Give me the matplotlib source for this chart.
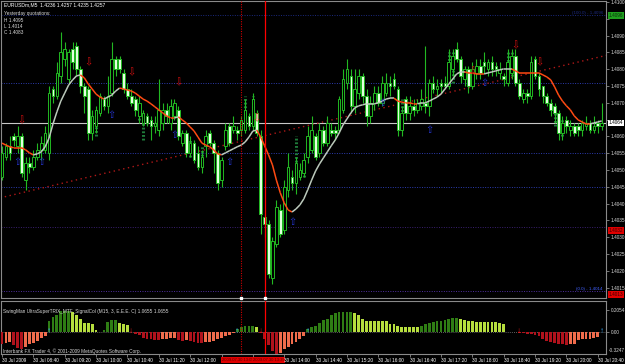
import numpy as np
import matplotlib
matplotlib.use('Agg')
import matplotlib.pyplot as plt
from matplotlib.collections import LineCollection

plt.rcParams['font.family'] = ['Liberation Sans', 'DejaVu Sans']

# EURUSDm M5, 30 Jul 2009, bars 08:00 .. 20:45
opens = [1.4048, 1.4054, 1.4057, 1.4060, 1.4057, 1.4060, 1.4047, 1.4052, 1.4051, 1.4054,
         1.4056, 1.4056, 1.4055, 1.4074, 1.4072, 1.4078, 1.4083, 1.4077, 1.4086, 1.4087,
         1.4080, 1.4075, 1.4074, 1.4061, 1.4063, 1.4067, 1.4071, 1.4069, 1.4073, 1.4083,
         1.4083, 1.4079, 1.4074, 1.4072, 1.4071, 1.4066, 1.4064, 1.4066, 1.4065, 1.4063,
         1.4062, 1.4064, 1.4068, 1.4064, 1.4066, 1.4068, 1.4058, 1.4061, 1.4055, 1.4058,
         1.4055, 1.4051, 1.4057, 1.4061, 1.4058, 1.4055, 1.4047, 1.4057, 1.4063, 1.4062,
         1.4062, 1.4062, 1.4062, 1.4066, 1.4063, 1.4067, 1.4060, 1.4036, 1.4034, 1.4018,
         1.4028, 1.4038, 1.4032, 1.4044, 1.4048, 1.4046, 1.4048, 1.4049, 1.4054, 1.4056,
         1.4060, 1.4055, 1.4062, 1.4058, 1.4062, 1.4062, 1.4062, 1.4068, 1.4076, 1.4078,
         1.4069, 1.4073, 1.4078, 1.4072, 1.4066, 1.4070, 1.4073, 1.4070, 1.4073, 1.4076,
         1.4077, 1.4074, 1.4062, 1.4071, 1.4067, 1.4069, 1.4068, 1.4069, 1.4070, 1.4069,
         1.4076, 1.4074, 1.4076, 1.4076, 1.4075, 1.4080, 1.4086, 1.4083, 1.4077, 1.4080,
         1.4075, 1.4079, 1.4081, 1.4082, 1.4080, 1.4082, 1.4081, 1.4079, 1.4078, 1.4076,
         1.4079, 1.4084, 1.4076, 1.4071, 1.4073, 1.4072, 1.4083, 1.4078, 1.4075, 1.4072,
         1.4070, 1.4069, 1.4067, 1.4061, 1.4065, 1.4062, 1.4063, 1.4063, 1.4062, 1.4063,
         1.4064, 1.4062, 1.4064, 1.4063]
highs = [1.4057, 1.4058, 1.4060, 1.4061, 1.4063, 1.4061, 1.4054, 1.4054, 1.4056, 1.4058,
         1.4060, 1.4063, 1.4075, 1.4075, 1.4082, 1.4091, 1.4088, 1.4086, 1.4088, 1.4088,
         1.4081, 1.4076, 1.4075, 1.4068, 1.4069, 1.4073, 1.4072, 1.4078, 1.4088, 1.4084,
         1.4084, 1.4080, 1.4076, 1.4074, 1.4072, 1.4072, 1.4068, 1.4067, 1.4066, 1.4066,
         1.4077, 1.4070, 1.4070, 1.4071, 1.4071, 1.4069, 1.4062, 1.4062, 1.4060, 1.4059,
         1.4057, 1.4056, 1.4062, 1.4062, 1.4059, 1.4056, 1.4054, 1.4064, 1.4064, 1.4066,
         1.4063, 1.4066, 1.4071, 1.4067, 1.4073, 1.4068, 1.4062, 1.4037, 1.4035, 1.4030,
         1.4041, 1.4040, 1.4047, 1.4055, 1.4050, 1.4054, 1.4052, 1.4055, 1.4063, 1.4066,
         1.4061, 1.4064, 1.4063, 1.4066, 1.4064, 1.4063, 1.4072, 1.4080, 1.4083, 1.4080,
         1.4080, 1.4080, 1.4079, 1.4074, 1.4072, 1.4075, 1.4075, 1.4078, 1.4079, 1.4078,
         1.4079, 1.4075, 1.4069, 1.4072, 1.4072, 1.4071, 1.4071, 1.4074, 1.4087, 1.4077,
         1.4078, 1.4077, 1.4077, 1.4078, 1.4086, 1.4086, 1.4088, 1.4084, 1.4081, 1.4081,
         1.4082, 1.4083, 1.4083, 1.4085, 1.4083, 1.4084, 1.4082, 1.4082, 1.4079, 1.4086,
         1.4086, 1.4086, 1.4077, 1.4074, 1.4074, 1.4084, 1.4084, 1.4079, 1.4075, 1.4073,
         1.4071, 1.4070, 1.4068, 1.4066, 1.4066, 1.4065, 1.4064, 1.4064, 1.4065, 1.4066,
         1.4065, 1.4066, 1.4065, 1.4070]
lows = [1.4047, 1.4053, 1.4053, 1.4057, 1.4055, 1.4048, 1.4044, 1.4049, 1.4050, 1.4053,
        1.4053, 1.4055, 1.4053, 1.4070, 1.4071, 1.4076, 1.4081, 1.4076, 1.4080, 1.4078,
        1.4073, 1.4067, 1.4059, 1.4059, 1.4061, 1.4066, 1.4068, 1.4067, 1.4072, 1.4078,
        1.4079, 1.4073, 1.4071, 1.4069, 1.4066, 1.4064, 1.4063, 1.4063, 1.4059, 1.4061,
        1.4060, 1.4062, 1.4064, 1.4062, 1.4065, 1.4059, 1.4057, 1.4054, 1.4054, 1.4052,
        1.4050, 1.4049, 1.4054, 1.4057, 1.4049, 1.4044, 1.4045, 1.4056, 1.4057, 1.4061,
        1.4059, 1.4060, 1.4061, 1.4062, 1.4062, 1.4060, 1.4031, 1.4030, 1.4018, 1.4016,
        1.4027, 1.4030, 1.4031, 1.4042, 1.4044, 1.4043, 1.4047, 1.4048, 1.4052, 1.4055,
        1.4053, 1.4054, 1.4057, 1.4057, 1.4060, 1.4059, 1.4061, 1.4067, 1.4074, 1.4067,
        1.4067, 1.4071, 1.4070, 1.4063, 1.4064, 1.4068, 1.4069, 1.4069, 1.4072, 1.4072,
        1.4074, 1.4060, 1.4060, 1.4065, 1.4065, 1.4066, 1.4067, 1.4068, 1.4067, 1.4066,
        1.4073, 1.4072, 1.4073, 1.4074, 1.4074, 1.4078, 1.4082, 1.4076, 1.4075, 1.4073,
        1.4074, 1.4077, 1.4077, 1.4079, 1.4078, 1.4078, 1.4078, 1.4077, 1.4075, 1.4075,
        1.4077, 1.4075, 1.4071, 1.4070, 1.4070, 1.4071, 1.4077, 1.4072, 1.4070, 1.4069,
        1.4066, 1.4064, 1.4059, 1.4059, 1.4061, 1.4060, 1.4060, 1.4060, 1.4060, 1.4062,
        1.4061, 1.4061, 1.4061, 1.4062]
closes = [1.4055, 1.4057, 1.4055, 1.4059, 1.4060, 1.4049, 1.4052, 1.4051, 1.4054, 1.4056,
          1.4058, 1.4061, 1.4073, 1.4072, 1.4079, 1.4085, 1.4086, 1.4085, 1.4082, 1.4080,
          1.4075, 1.4072, 1.4061, 1.4066, 1.4068, 1.4072, 1.4069, 1.4072, 1.4083, 1.4080,
          1.4080, 1.4074, 1.4072, 1.4070, 1.4068, 1.4070, 1.4067, 1.4064, 1.4063, 1.4064,
          1.4068, 1.4068, 1.4066, 1.4069, 1.4070, 1.4060, 1.4061, 1.4055, 1.4058, 1.4053,
          1.4051, 1.4054, 1.4060, 1.4058, 1.4055, 1.4046, 1.4053, 1.4062, 1.4058, 1.4063,
          1.4061, 1.4065, 1.4068, 1.4063, 1.4071, 1.4061, 1.4037, 1.4034, 1.4019, 1.4029,
          1.4039, 1.4031, 1.4045, 1.4051, 1.4046, 1.4052, 1.4050, 1.4053, 1.4060, 1.4062,
          1.4054, 1.4062, 1.4058, 1.4064, 1.4061, 1.4061, 1.4071, 1.4077, 1.4080, 1.4069,
          1.4074, 1.4078, 1.4072, 1.4066, 1.4070, 1.4073, 1.4070, 1.4076, 1.4076, 1.4075,
          1.4075, 1.4062, 1.4067, 1.4067, 1.4069, 1.4068, 1.4070, 1.4071, 1.4069, 1.4076,
          1.4074, 1.4075, 1.4075, 1.4075, 1.4082, 1.4084, 1.4083, 1.4078, 1.4080, 1.4075,
          1.4080, 1.4081, 1.4079, 1.4081, 1.4082, 1.4080, 1.4080, 1.4080, 1.4077, 1.4082,
          1.4084, 1.4076, 1.4072, 1.4073, 1.4072, 1.4082, 1.4078, 1.4074, 1.4072, 1.4070,
          1.4068, 1.4067, 1.4061, 1.4064, 1.4063, 1.4063, 1.4061, 1.4062, 1.4064, 1.4064,
          1.4062, 1.4063, 1.4063, 1.4064]

ma = [1.40580, 1.40574, 1.40569, 1.40566, 1.40566, 1.40566, 1.40560, 1.40551, 1.40545, 1.40548,
      1.40554, 1.40569, 1.40595, 1.40637, 1.40673, 1.40705, 1.40729, 1.40753, 1.40768, 1.40780,
      1.40783, 1.40774, 1.40756, 1.40741, 1.40726, 1.40717, 1.40711, 1.40717, 1.40723, 1.40735,
      1.40744, 1.40741, 1.40738, 1.40735, 1.40729, 1.40720, 1.40711, 1.40705, 1.40697, 1.40688,
      1.40679, 1.40670, 1.40661, 1.40655, 1.40655, 1.40658, 1.40649, 1.40640, 1.40628, 1.40616,
      1.40598, 1.40580, 1.40574, 1.40569, 1.40560, 1.40548, 1.40545, 1.40551, 1.40557, 1.40563,
      1.40569, 1.40574, 1.40583, 1.40598, 1.40616, 1.40619, 1.40598, 1.40572, 1.40545, 1.40515,
      1.40470, 1.40432, 1.40402, 1.40381, 1.40375, 1.40384, 1.40396, 1.40414, 1.40441, 1.40470,
      1.40497, 1.40518, 1.40536, 1.40554, 1.40572, 1.40589, 1.40610, 1.40634, 1.40652, 1.40670,
      1.40685, 1.40691, 1.40694, 1.40697, 1.40697, 1.40697, 1.40700, 1.40705, 1.40711, 1.40714,
      1.40714, 1.40705, 1.40702, 1.40700, 1.40700, 1.40697, 1.40697, 1.40700, 1.40700, 1.40705,
      1.40711, 1.40717, 1.40726, 1.40741, 1.40756, 1.40771, 1.40786, 1.40792, 1.40792, 1.40789,
      1.40789, 1.40786, 1.40786, 1.40786, 1.40789, 1.40792, 1.40795, 1.40798, 1.40801, 1.40801,
      1.40801, 1.40795, 1.40789, 1.40789, 1.40789, 1.40789, 1.40789, 1.40789, 1.40783, 1.40777,
      1.40768, 1.40747, 1.40723, 1.40705, 1.40691, 1.40679, 1.40661, 1.40649, 1.40643, 1.40637,
      1.40637, 1.40640, 1.40643, 1.40646]

# SwingMan UltraSuperTRIX histogram
trix = [-0.12, -0.11, -0.10, -0.13, -0.15, -0.16, -0.14, -0.12, -0.11, -0.09,
        -0.06, -0.04, 0.10, 0.14, 0.15, 0.19, 0.19, 0.19, 0.18, 0.15,
        0.12, 0.08, 0.08, 0.07, 0.01, 0.00, 0.01, 0.09, 0.11, 0.11,
        0.08, 0.07, 0.06, 0.00, -0.02, -0.03, -0.06, -0.07, -0.07, -0.08,
        -0.08, -0.07, -0.07, -0.06, -0.06, -0.08, -0.09, -0.08, -0.09, -0.10,
        -0.11, -0.11, -0.10, -0.10, -0.09, -0.07, -0.06, -0.04, -0.03, -0.01,
        0.02, 0.04, 0.05, 0.05, 0.05, 0.04, -0.01, -0.07, -0.13, -0.18,
        -0.21, -0.20, -0.16, -0.14, -0.12, -0.10, -0.07, -0.04, 0.02, 0.04,
        0.05, 0.08, 0.11, 0.12, 0.15, 0.17, 0.18, 0.18, 0.18, 0.18,
        0.17, 0.15, 0.12, 0.10, 0.10, 0.10, 0.10, 0.10, 0.10, 0.07,
        0.07, 0.05, 0.04, 0.04, 0.04, 0.04, 0.04, 0.05, 0.07, 0.08,
        0.09, 0.10, 0.10, 0.11, 0.12, 0.13, 0.13, 0.12, 0.11, 0.10,
        0.10, 0.09, 0.09, 0.09, 0.09, 0.09, 0.09, 0.08, 0.07, 0.00,
        0.00, 0.00, -0.01, -0.01, -0.02, -0.02, -0.03, -0.04, -0.07, -0.09,
        -0.10, -0.11, -0.12, -0.12, -0.13, -0.12, -0.12, -0.08, -0.07, -0.07,
        -0.07, -0.06, -0.05, 0.00]

# dotted overlay columns
ha_bars = [24, 35, 36, 48, 51, 62, 64, 75, 77, 102, 114, 115, 129, 130, 141, 143]
ha_top = [1.4068, 1.4070, 1.4067, 1.4059, 1.4057, 1.4072, 1.4072, 1.4060, 1.4053, 1.4071,
          1.4085, 1.4085, 1.4085, 1.4085, 1.4069, 1.4065]
ha_bot = [1.4060, 1.4065, 1.4059, 1.4054, 1.4051, 1.4063, 1.4063, 1.4049, 1.4048, 1.4063,
          1.4075, 1.4076, 1.4078, 1.4078, 1.4063, 1.4060]

sell_bars = [5, 22, 33, 45, 65, 120, 131, 137]
sell_px = [1.40649, 1.40819, 1.40792, 1.40762, 1.40655, 1.40795, 1.40872, 1.40819]
buy_bars = [4, 10, 28, 44, 58, 74, 97, 109, 123]
buy_px = [1.40524, 1.40524, 1.40664, 1.40604, 1.40524, 1.40345, 1.40699, 1.40619, 1.40759]

ind_up = [12, 60, 78, 153]
ind_dn = [33, 66, 132]

fib_levels = [1.4096, 1.4076, 1.4055, 1.4045, 1.4033, 1.4014]
fib_colors = ['#1c2a80', '#2c3cb0', '#2c3cb0', '#2c3cb0', '#3a2070', '#5030a0']
bid = 1.4064
trend_x = [-0.5, 154.5]
trend_y = [1.40417, 1.40842]
vline_dot = 61
vline_solid = 67

price_ticks = [1.4100, 1.4095, 1.4090, 1.4085, 1.4080, 1.4075, 1.4070, 1.4065, 1.4060,
               1.4055, 1.4050, 1.4045, 1.4040, 1.4035, 1.4030, 1.4025, 1.4020, 1.4015]
hidden_ticks = [1.4095, 1.4065]
time_bars = [0, 8, 16, 24, 32, 40, 48, 56, 64, 72, 80, 88, 96, 104, 112, 120, 128, 136, 144, 152]
time_labels = ['30 Jul 2009', '30 Jul 08:40', '30 Jul 09:20', '30 Jul 10:00', '30 Jul 10:40',
               '30 Jul 11:20', '30 Jul 12:00', '2009.07.30 13:05', '2009.07.30 13:35', '30 Jul 14:00',
               '30 Jul 14:40', '30 Jul 15:20', '30 Jul 16:00', '30 Jul 16:40', '30 Jul 17:20',
               '30 Jul 18:00', '30 Jul 18:40', '30 Jul 19:20', '30 Jul 20:00', '30 Jul 20:40']

o = np.array(opens); h = np.array(highs); l = np.array(lows); c = np.array(closes)
n = len(o)
x = np.arange(n)

W, H = 625, 364
fig = plt.figure(figsize=(W / 100, H / 100), dpi=100, facecolor='black')
ax = fig.add_axes([1 / W, 1 - 298 / H, 605 / W, 297 / H])
ind = fig.add_axes([1 / W, 1 - 354 / H, 605 / W, 53 / H], sharex=ax)
for a in (ax, ind):
    a.set_facecolor('black')
    for s in a.spines.values():
        s.set_color('#8a8a8a')
        s.set_linewidth(0.8)

xl = (-0.26, 154.1)
ax.set_xlim(*xl)
ax.set_ylim(1.40119, 1.41003)

# levels
for lv, col in zip(fib_levels, fib_colors):
    ax.axhline(lv, color=col, lw=0.7, ls=(0, (1, 1.5)), zorder=1)
ax.axhline(bid, color='#c8c8c8', lw=0.8, zorder=1)
ax.plot(trend_x, trend_y, color='#b01818', lw=1.0, ls=(0, (1, 2.5)), zorder=2)

# dotted overlay
ax.vlines(ha_bars, ha_bot, ha_top, color='#1f7a3a', lw=2.2, ls=(0, (0.6, 0.6)), zorder=2.5)

# candles
up = c >= o
bottoms = np.minimum(o, c)
heights = np.maximum(np.abs(c - o), 0.00003)
ax.vlines(x, l, h, color='#22b822', lw=0.8, zorder=3)
ax.bar(x[up], heights[up], bottom=bottoms[up], width=0.68, color='black',
       edgecolor='#22b822', linewidth=0.7, zorder=4)
ax.bar(x[~up], heights[~up], bottom=bottoms[~up], width=0.68, color='#e4ffe0',
       edgecolor='#22b822', linewidth=0.7, zorder=4)

# moving average coloured by direction
mav = np.array(ma)
segs = [[(i - 1, mav[i - 1]), (i, mav[i])] for i in range(1, n)]
cols = []
last = '#ff4a12'
for i in range(1, n):
    if mav[i] > mav[i - 1]:
        last = '#bccabc'
    elif mav[i] < mav[i - 1]:
        last = '#ff4a12'
    cols.append(last)
ax.add_collection(LineCollection(segs, colors=cols, linewidths=1.1, zorder=5))

for b, p in zip(sell_bars, sell_px):
    ax.text(b, p, '⇩', color='#d01010', fontsize=7, ha='center', va='center', zorder=6)
for b, p in zip(buy_bars, buy_px):
    ax.text(b, p, '⇧', color='#2535d0', fontsize=7, ha='center', va='center', zorder=6)

for a in (ax, ind):
    a.axvline(vline_dot, color='#d00000', lw=0.8, ls=(0, (1, 1.2)), zorder=6)
    a.axvline(vline_solid, color='#ff0000', lw=0.9, zorder=6)
ax.plot([vline_dot, vline_solid], [1.40119, 1.40119], 's', ms=2, color='white',
        clip_on=False, zorder=7)

ax.yaxis.tick_right()
ax.set_yticks(price_ticks)
ax.set_yticklabels(['' if v in hidden_ticks else f'{v:.4f}' for v in price_ticks])
ax.tick_params(axis='y', colors='#8a8a8a', labelcolor='#d8d8d8', labelsize=3.4,
               length=2, width=0.6, pad=1.2)
ax.tick_params(axis='x', bottom=False, labelbottom=False)

def ybox(a, y, txt, fc, tc):
    a.text(1.004, y, txt, transform=a.get_yaxis_transform(), ha='left', va='center',
           fontsize=3.4, color=tc, zorder=10, clip_on=False,
           bbox=dict(boxstyle='square,pad=0.15', fc=fc, ec='none'))

ybox(ax, 1.4096, '1.4096', '#1fa01f', '#0a300a')
ybox(ax, bid, '1.4064', '#ffffff', '#000000')
ybox(ax, 1.4032, '1.4032', '#e00000', '#3a0000')
ybox(ax, 1.4013, '1.4013', '#e00000', '#3a0000')

ax.text(0.995, 1.4096, '(100.0) - 1.4096', transform=ax.get_yaxis_transform(), ha='right',
        va='bottom', fontsize=3.2, color='#1c2a80', zorder=6)
ax.text(0.995, 1.4014, '(0.0) - 1.4014', transform=ax.get_yaxis_transform(), ha='right',
        va='bottom', fontsize=3.2, color='#4060ff', zorder=6)

fig.text(4 / W, 1 - 5 / H, 'EURUSDm,M5  1.4236 1.4257 1.4235 1.4257', fontsize=3.6,
         color='white', va='center')
for yy, t in zip([14, 20.5, 27, 33], ['Yesterday quotations:', 'H 1.4095', 'L 1.4014', 'C 1.4083']):
    fig.text(4 / W, 1 - yy / H, t, fontsize=3.4, color='#d8d8d8', va='center')

# indicator panel
tv = np.array(trix)
hcols = []
prev = 0.0
state = 'up'
for v in tv:
    if v > prev:
        state = 'up'
    elif v < prev:
        state = 'dn'
    if v >= 0:
        hcols.append('#2f7d14' if state == 'up' else '#b6de3e')
    else:
        hcols.append('#b0121c' if state == 'dn' else '#f06c4c')
    prev = v
ind.bar(x, tv, width=0.72, color=hcols, zorder=3)
ind.axhline(0, color='#808080', lw=0.6, ls=(0, (1, 1.5)), zorder=2)
ind.set_ylim(-0.210, 0.285)
for b in ind_up:
    ind.text(b, 0, '↑', color='#30a8ff', fontsize=6, fontweight='bold', ha='center',
             va='center', zorder=6)
for b in ind_dn:
    ind.text(b, 0, '↓', color='#ff2020', fontsize=6, fontweight='bold', ha='center',
             va='center', zorder=6)

ind.yaxis.tick_right()
ind.set_yticks([0.2054, 0.0])
ind.set_yticklabels(['0.2054', '0.00'])
ind.tick_params(axis='y', colors='#8a8a8a', labelcolor='#d8d8d8', labelsize=3.4,
                length=2, width=0.6, pad=1.2)
fig.text(609 / W, 1 - 350 / H, '-0.3247', fontsize=3.4, color='#d8d8d8', va='center')

ind.set_xticks(time_bars)
ind.set_xticklabels(time_labels, ha='left')
ind.tick_params(axis='x', colors='#8a8a8a', labelcolor='white', labelsize=3.4,
                length=2, width=0.6, pad=0.8)
for lab in ind.get_xticklabels():
    if lab.get_text().startswith('2009'):
        lab.set_fontsize(3.0)
        lab.set_color('#5a0000')
        lab.set_bbox(dict(boxstyle='square,pad=0.2', fc='#e00000', ec='none'))
ind.set_xlim(*xl)

fig.text(3 / W, 1 - 311 / H, 'SwingMan UltraSuperTRIX_MTF_SignalCol (M15, 3, E.E.E. C) 1.0655 1.0655',
         fontsize=3.4, color='#d8d8d8', va='center')
fig.text(3 / W, 1 - 351 / H, 'Interbank FX Trader 4, © 2001-2009 MetaQuotes Software Corp.',
         fontsize=3.4, color='#d8d8d8', va='center')

fig.savefig('out.png', dpi=100, facecolor='black')
